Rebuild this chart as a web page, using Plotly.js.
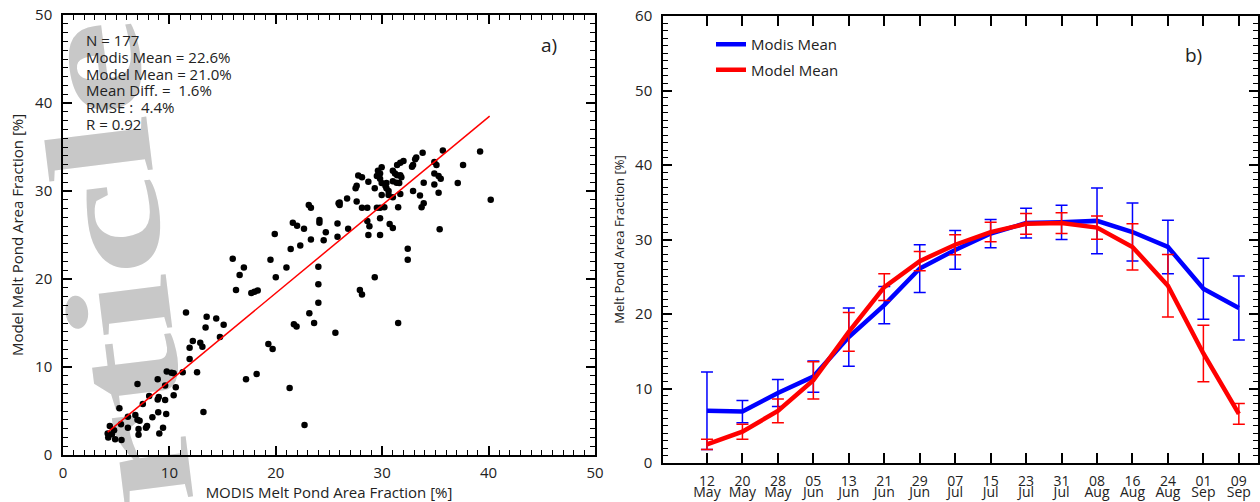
<!DOCTYPE html>
<html>
<head>
<meta charset="utf-8">
<script src="https://cdn.plot.ly/plotly-3.0.1.min.js"></script>
<style>
html,body{margin:0;padding:0;background:#fff;}
#wrap{position:relative;width:1260px;height:502px;}
#watermark,#chart{position:absolute;left:0;top:0;width:1260px;height:502px;}
#watermark{z-index:0;}
#chart{z-index:1;}
</style>
</head>
<body>
<div id="wrap"><div id="watermark"></div><div id="chart"></div></div>
<script>
// ---------- Panel a) scatter data ----------
const modisFraction = [16.26,17.7,18.0,18.3,11.56,13.5,14.4,13.4,15.1,14.75,12.2,12.9,13.1,11.9,11.9,12.6,11.25,9.75,10.2,10.4,8.9,7.0,9.6,10.6,8.1,10.4,8.9,9.0,9.6,7.5,5.3,13.2,8.95,9.7,6.8,6.1,8.4,7.0,7.2,5.45,4.4,7.9,7.8,6.1,9.4,4.8,7.1,9.05,4.2,4.6,4.25,4.9,5.5,7.1,17.2,18.2,
23.1,23.3,25.9,21.6,22.0,22.65,24.1,24.1,25.8,24.7,19.9,23.3,24.5,25.8,22.3,21.4,15.95,19.5,17.0,21.0,24.0,16.6,20.0,24.0,24.0,23.15,23.6,25.6,21.7,21.95,19.3,19.7,21.3,22.7,
39.2,35.7,33.8,33.2,33.1,32.0,31.7,31.4,34.9,35.1,32.9,32.8,29.95,29.6,29.8,31.0,31.2,31.4,37.6,27.75,28.1,29.5,29.8,28.7,31.7,31.8,34.9,35.3,35.5,29.95,30.4,30.3,31.0,31.35,31.6,27.6,27.5,33.9,37.1,34.9,29.3,30.4,30.6,32.9,35.3,29.95,30.6,31.0,31.7,33.55,26.7,26.0,26.0,27.6,28.1,28.6,29.5,29.8,30.2,31.5,33.9,33.7,40.2,26.8,28.6,28.8,28.7,29.8,29.8,30.7,31.0,35.4,32.4,32.4,29.3,27.9,28.1,31.5];
const modelFraction = [18.75,18.4,18.55,18.7,16.2,15.7,15.5,14.5,14.8,13.4,12.95,12.75,12.3,12.2,10.9,9.4,9.4,9.5,9.35,9.3,8.6,8.07,7.9,7.7,6.7,6.8,6.3,6.6,6.25,5.8,5.3,4.9,4.85,4.65,4.55,4.35,4.3,4.0,3.9,3.5,3.3,3.3,3.1,3.1,3.1,2.8,2.95,2.45,2.45,2.35,2.0,1.8,1.7,2.3,8.6,9.2,
28.4,28.1,28.6,26.4,26.05,25.7,26.7,26.4,26.3,25.3,25.1,24.5,24.4,24.8,23.8,23.4,22.3,22.2,21.3,21.3,21.4,20.45,20.2,19.4,17.3,16.1,15.0,13.9,14.85,14.6,12.6,12.05,7.6,3.4,
34.5,34.6,34.35,33.8,33.6,33.4,33.2,32.95,33.3,32.95,32.95,32.75,32.7,32.3,32.0,32.3,32.0,31.8,32.95,31.75,31.55,31.7,31.4,31.05,31.8,31.55,32.0,31.7,31.4,30.9,30.9,30.6,31.1,30.95,30.9,30.6,30.3,30.95,30.9,30.75,30.3,30.3,30.0,30.0,29.8,29.55,29.55,29.3,29.66,29.5,29.15,28.7,28.4,28.8,28.1,28.1,28.1,28.1,28.15,28.15,28.6,28.15,29.0,25.7,26.6,26.0,25.0,26.9,25.0,26.25,25.8,25.65,23.45,22.2,20.2,18.75,18.25,15.0];
const fitX = [4.2, 40.1];
const fitY = [2.6, 38.5];
const statsLines = ['N = 177','Modis Mean = 22.6%','Model Mean = 21.0%','Mean Diff. =  1.6%','RMSE :  4.4%','R = 0.92'];

// ---------- Panel b) time series data ----------
const dayLabels = ['12','20','28','05','13','21','29','07','15','23','31','08','16','24','01','09'];
const monthLabels = ['May','May','May','Jun','Jun','Jun','Jun','Jul','Jul','Jul','Jul','Aug','Aug','Aug','Sep','Sep'];
const periodIndex = [0,1,2,3,4,5,6,7,8,9,10,11,12,13,14,15];
const modisMean = [7.0,6.9,9.4,11.6,16.9,21.2,26.1,28.6,30.8,32.2,32.3,32.5,31.0,29.0,23.4,20.8];
const modisErr  = [5.2,1.5,1.8,2.1,3.9,2.5,3.2,2.6,1.9,2.0,2.3,4.4,3.9,3.6,4.1,4.3];
const modelMean = [2.5,4.2,7.0,11.1,17.6,23.6,27.1,29.3,31.0,32.1,32.2,31.6,29.0,23.8,14.7,6.6];
const modelErr  = [0.7,1.0,1.6,2.5,2.6,1.8,1.3,1.35,1.3,1.4,1.4,1.55,3.1,4.2,3.8,1.4];

const FONT = 'Open Sans, Liberation Sans, sans-serif';
const W = 1260, H = 502;
const px = v => v / W;
const py = v => 1 - v / H;

// ---------- background layer: journal watermark ----------
Plotly.newPlot('watermark', [], {
  width:W, height:H, margin:{l:0, r:0, t:0, b:0},
  paper_bgcolor:'#ffffff', plot_bgcolor:'#ffffff',
  xaxis:{visible:false}, yaxis:{visible:false}, showlegend:false,
  annotations:[{text:'<b>Article</b>', xref:'paper', yref:'paper', x:px(123), y:py(345), xanchor:'center', yanchor:'middle',
    showarrow:false, textangle:-97, font:{family:'Liberation Serif, DejaVu Serif, serif', size:150, color:'#c8c8c8'}}]
}, {displayModeBar:false, staticPlot:true}).then(function(gd){
  const t = gd.querySelector('text.annotation-text');
  if (t) { t.setAttribute('textLength', '650'); t.setAttribute('lengthAdjust', 'spacingAndGlyphs'); }
});

// ---------- main chart ----------
const traces = [
  {type:'scatter', mode:'markers', x:modisFraction, y:modelFraction, xaxis:'x', yaxis:'y',
   marker:{color:'#000', size:6.5}, showlegend:false},
  {type:'scatter', mode:'lines', x:fitX, y:fitY, xaxis:'x', yaxis:'y',
   line:{color:'#ff0000', width:1.5}, showlegend:false},
  {type:'scatter', mode:'lines', name:'Modis Mean', legendgroup:'modis', x:periodIndex, y:modisMean, xaxis:'x2', yaxis:'y2',
   line:{color:'#0000ff', width:4.5},
   error_y:{type:'data', array:modisErr, visible:true, color:'#0000ff', thickness:1.5, width:6}},
  {type:'scatter', mode:'lines', name:'Model Mean', legendgroup:'model', x:periodIndex, y:modelMean, xaxis:'x2', yaxis:'y2',
   line:{color:'#ff0000', width:4.5},
   error_y:{type:'data', array:modelErr, visible:true, color:'#ff0000', thickness:1.5, width:6}},
  {type:'scatter', mode:'lines', x:[], y:[], xaxis:'x3', yaxis:'y2', showlegend:false, hoverinfo:'skip'}
];

const axBase = {
  showline:true, linecolor:'#000', linewidth:1.5, mirror:'ticks', showgrid:false, zeroline:false,
  ticks:'inside', tickcolor:'#000', tickwidth:1.5, ticklen:9,
  tickfont:{family:FONT, size:15, color:'#222'}
};
const minorTicks = {ticks:'inside', dtick:1, tick0:0, ticklen:5, tickwidth:1, tickcolor:'#000', showgrid:false};

const annotations = [
  {text:'a)', xref:'paper', yref:'paper', x:px(549), y:py(45), xanchor:'center', yanchor:'middle',
   showarrow:false, font:{family:FONT, size:19, color:'#222'}},
  {text:'b)', xref:'paper', yref:'paper', x:px(1193), y:py(55), xanchor:'center', yanchor:'middle',
   showarrow:false, font:{family:FONT, size:19, color:'#222'}}
];
statsLines.forEach(function(line, i){
  annotations.push({text:line, xref:'paper', yref:'paper', x:px(84), y:py(40 + i*16.8),
    xanchor:'left', yanchor:'middle', align:'left', showarrow:false, font:{family:FONT, size:15, color:'#222'}});
});

const layout = {
  width:W, height:H,
  margin:{l:0, r:0, t:0, b:0},
  paper_bgcolor:'rgba(0,0,0,0)', plot_bgcolor:'rgba(0,0,0,0)',
  font:{family:FONT, size:15, color:'#222'},
  showlegend:true,
  legend:{x:px(711), y:py(28), xanchor:'left', yanchor:'top', bgcolor:'rgba(0,0,0,0)',
          font:{family:FONT, size:15, color:'#222'}, tracegroupgap:3},
  xaxis:Object.assign({}, axBase, {
    domain:[px(63), px(595)], range:[0,50], dtick:10, anchor:'y', ticklabelstandoff:3, minor:minorTicks,
    title:{text:'MODIS Melt Pond Area Fraction [%]', font:{family:FONT, size:15, color:'#222'}, standoff:2}
  }),
  yaxis:Object.assign({}, axBase, {
    domain:[py(455), py(15)], range:[0,50], dtick:10, anchor:'x', ticklabelstandoff:6, minor:minorTicks,
    title:{text:'Model Melt Pond Area Fraction [%]', font:{family:FONT, size:15, color:'#222'}, standoff:8}
  }),
  xaxis2:Object.assign({}, axBase, {
    domain:[px(663), px(1258)], range:[-1.24, 15.54], anchor:'y2', ticklen:10,
    tickmode:'array', tickvals:periodIndex, ticktext:dayLabels, ticklabelstandoff:4,
    tickfont:{family:FONT, size:14, color:'#222'}
  }),
  xaxis3:{
    domain:[px(663), px(1258)], range:[-1.24, 15.54], anchor:'y2', overlaying:'x2', side:'bottom',
    showline:false, showgrid:false, zeroline:false, ticks:'',
    tickmode:'array', tickvals:periodIndex, ticktext:monthLabels, ticklabelstandoff:19,
    tickfont:{family:FONT, size:14, color:'#222'}
  },
  yaxis2:Object.assign({}, axBase, {
    domain:[py(463), py(16)], range:[0,60], dtick:10, anchor:'x2', ticklabelstandoff:6, minor:minorTicks,
    title:{text:'Melt Pond Area Fraction [%]', font:{family:FONT, size:13, color:'#222'}, standoff:8}
  }),
  annotations:annotations
};

Plotly.newPlot('chart', traces, layout, {displayModeBar:false});
</script>
</body>
</html>
